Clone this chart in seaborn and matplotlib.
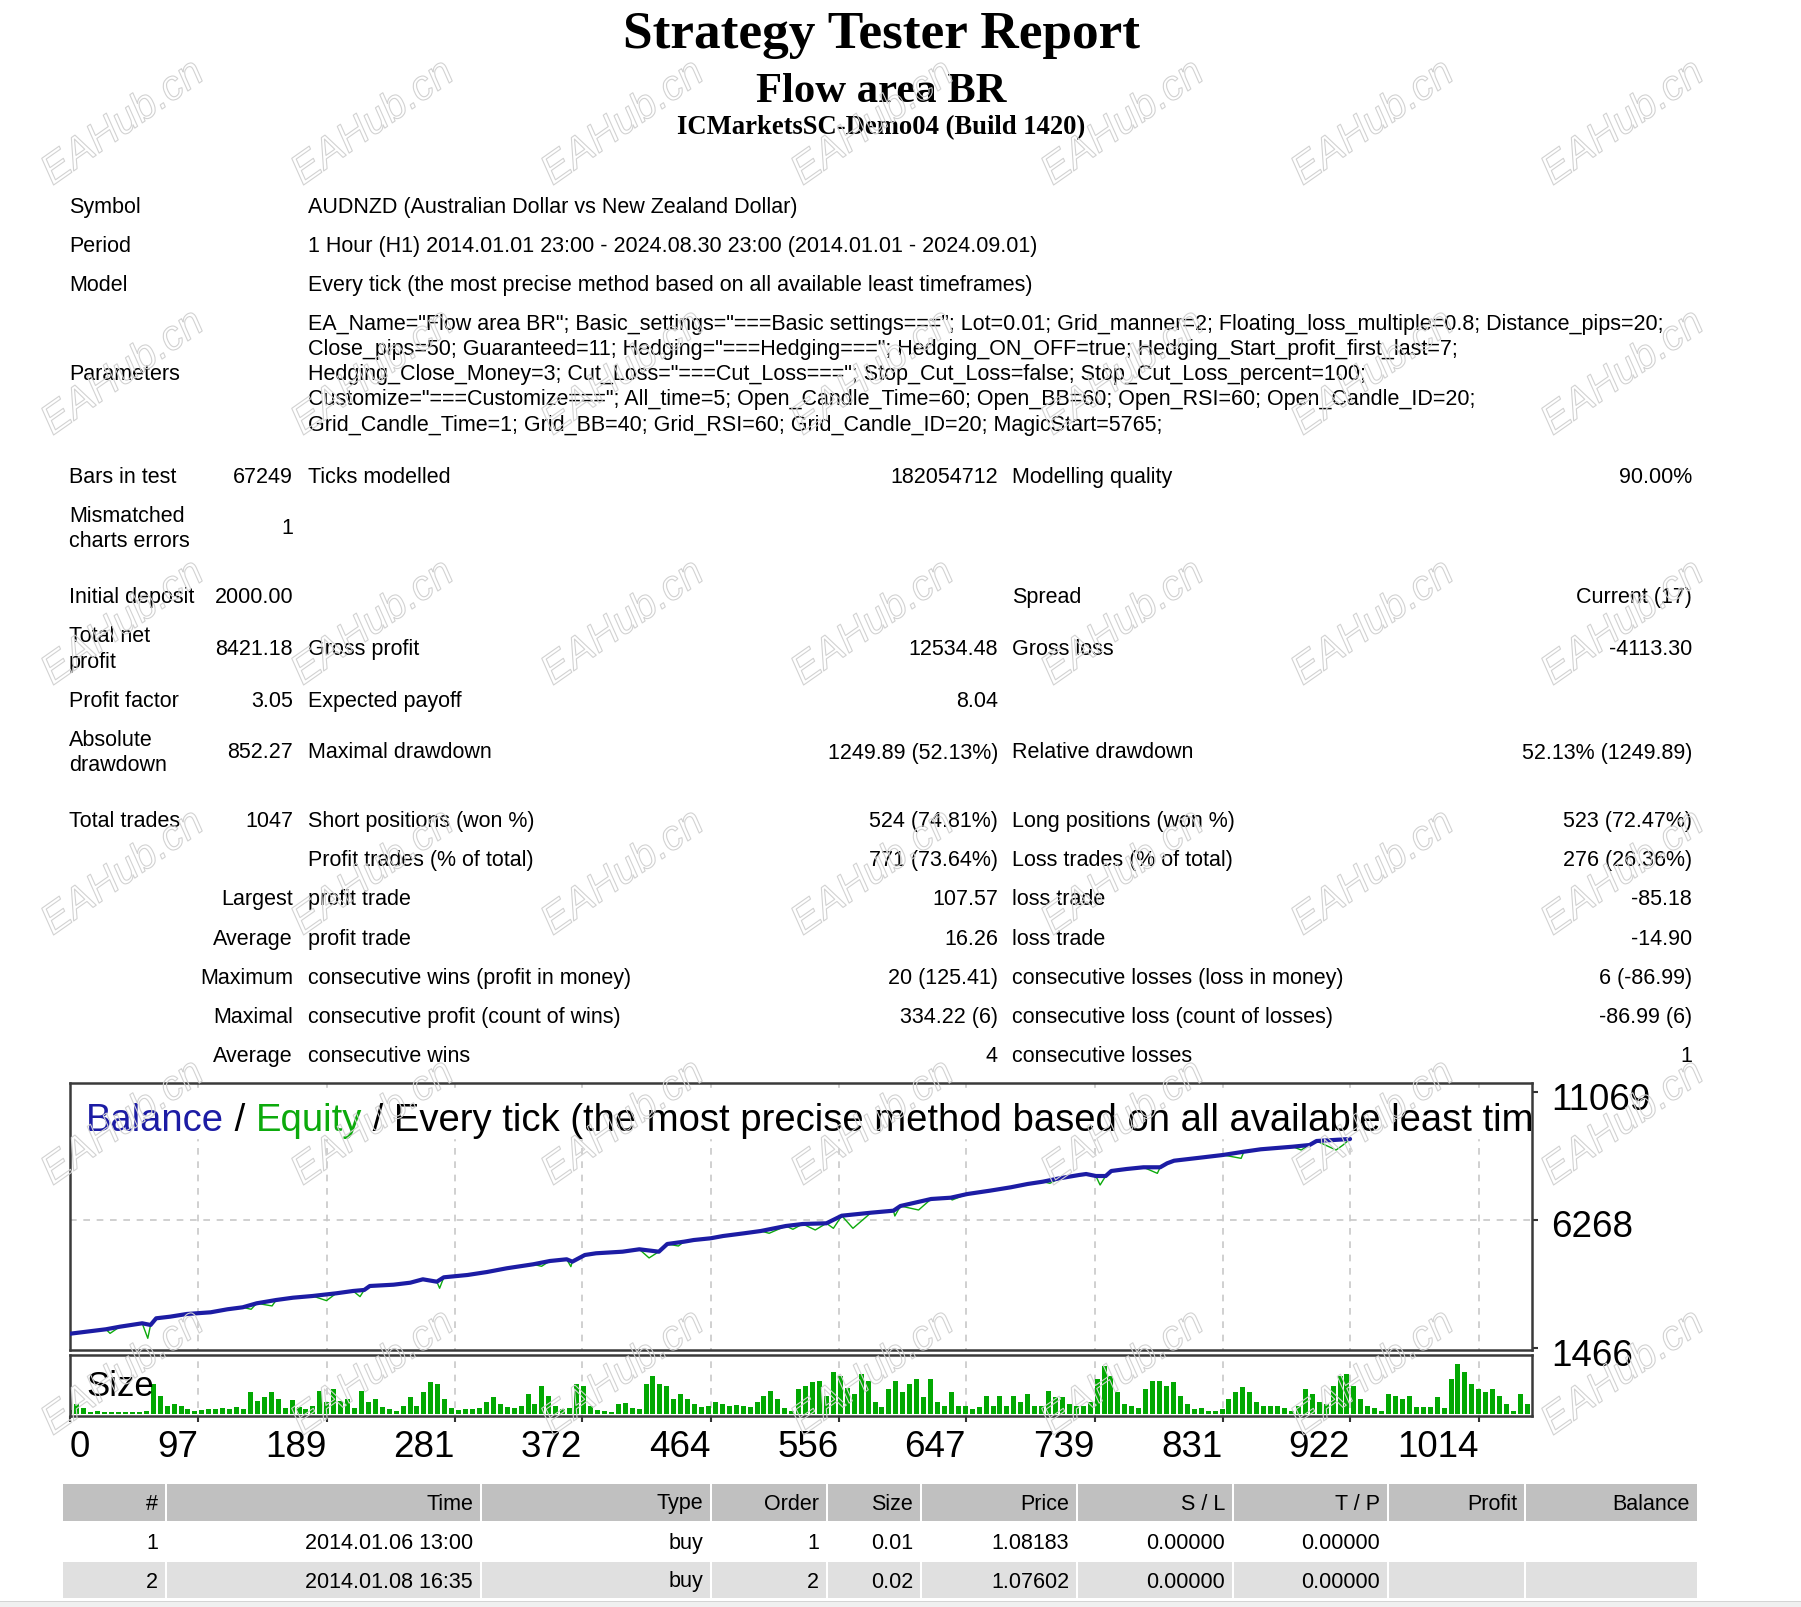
import matplotlib
matplotlib.use("Agg")
import matplotlib.pyplot as plt
import matplotlib.patheffects as pe
import matplotlib.transforms as mtransforms
from matplotlib.patches import Rectangle
import numpy as np
import pandas as pd
import seaborn as sns

W, H = 1801, 1607

# balance curve (trade number, balance)
balance_x = [5, 31, 41, 57, 63, 67, 77, 89, 106, 118, 129, 139, 153, 165, 179, 196, 208, 216, 220, 237,
             249, 258, 268, 273, 290, 304, 318, 337, 349, 361, 365, 374, 382, 401, 413, 427, 433, 445, 452, 464,
             473, 488, 500, 518, 530, 547, 558, 579, 595, 600, 622, 636, 648, 664, 679, 691, 702, 714, 728, 733,
             740, 747, 751, 762, 774, 786, 791, 796, 817, 831, 846, 858, 881, 893, 898, 922]
balance_y = [2000, 2168, 2265, 2393, 2330, 2580, 2641, 2742, 2805, 2918, 2993, 3143, 3267, 3353, 3417, 3518, 3605, 3643, 3792, 3841,
             3916, 4043, 3953, 4118, 4205, 4317, 4456, 4606, 4730, 4794, 4704, 4955, 5019, 5079, 5169, 5079, 5367, 5454, 5517, 5581,
             5667, 5769, 5855, 6043, 6118, 6144, 6429, 6542, 6617, 6793, 7056, 7104, 7243, 7367, 7494, 7618, 7705, 7832, 7956, 7993,
             7918, 7918, 8106, 8181, 8245, 8245, 8395, 8492, 8620, 8707, 8830, 8920, 9018, 9081, 9231, 9306]

# equity drawdown spikes below the balance line
dip_x = [34, 61, 135, 150, 189, 213, 270, 343, 364, 420, 441, 506, 523, 539, 552, 566, 596, 613, 637, 707, 743, 784, 844, 887, 912, 917]
dip_y = [2015, 1830, 2918, 3044, 3243, 3393, 3708, 4531, 4519, 4845, 5292, 5769, 5919, 5893, 5956, 5956, 6418, 6643, 7018, 7644,
         7580, 8018, 8581, 8893, 8893, 9081]

# lot size per trade, sampled about every 5 trades from the left edge
size_lots = [0.04, 0.10, 0.06, 0.02, 0.03, 0.02, 0.02, 0.02, 0.02, 0.02, 0.02, 0.03,
             0.30, 0.18, 0.08, 0.10, 0.08, 0.05, 0.03, 0.04, 0.05, 0.05, 0.06, 0.05, 0.07, 0.05,
             0.22, 0.13, 0.17, 0.22, 0.15, 0.06, 0.14, 0.07, 0.05, 0.08,
             0.23, 0.12, 0.25, 0.13, 0.15, 0.06, 0.23, 0.12, 0.15, 0.07, 0.05, 0.03, 0.08, 0.17, 0.08, 0.22, 0.32,
             0.30, 0.15, 0.06, 0.04, 0.05, 0.05, 0.06, 0.12, 0.17, 0.10,
             0.07, 0.06, 0.08, 0.20, 0.10, 0.28, 0.18, 0.08, 0.05, 0.06,
             0.30, 0.28, 0.08, 0.04, 0.03, 0.02, 0.10, 0.11, 0.06, 0.05,
             0.30, 0.38, 0.30, 0.28, 0.15, 0.20, 0.15, 0.10, 0.07, 0.08,
             0.12, 0.10, 0.08, 0.09, 0.08, 0.07, 0.12, 0.18, 0.23, 0.15,
             0.06, 0.03, 0.25,
             0.28, 0.32, 0.33, 0.18, 0.42, 0.38, 0.26, 0.20, 0.40, 0.33,
             0.12, 0.07, 0.25, 0.33, 0.22, 0.30, 0.35, 0.17, 0.35, 0.12,
             0.08, 0.22, 0.08, 0.08, 0.05, 0.07, 0.18, 0.08, 0.18, 0.08,
             0.18, 0.12, 0.20, 0.08, 0.08, 0.23, 0.17, 0.17, 0.10, 0.08,
             0.08, 0.12, 0.35, 0.48, 0.38, 0.22, 0.10, 0.08, 0.06, 0.25,
             0.33, 0.33, 0.28,
             0.32, 0.18, 0.10, 0.05, 0.06, 0.03, 0.03, 0.05, 0.15, 0.22,
             0.27, 0.22, 0.12, 0.08, 0.08, 0.08, 0.06, 0.03, 0.08, 0.25,
             0.20, 0.12, 0.10, 0.28, 0.38, 0.40, 0.28, 0.15, 0.08, 0.06,
             0.03, 0.20, 0.18, 0.15, 0.18, 0.07, 0.07, 0.07, 0.17, 0.06,
             0.35, 0.50, 0.42, 0.30, 0.25, 0.22, 0.25, 0.18, 0.10, 0.03,
             0.20, 0.10]

x_ticks = [0, 97, 189, 281, 372, 464, 556, 647, 739, 831, 922, 1014]
y_ticks = [1466, 6268, 11069]

info_labels = ["Symbol", "Period", "Model"]
info_values = ["AUDNZD (Australian Dollar vs New Zealand Dollar)",
               "1 Hour (H1) 2014.01.01 23:00 - 2024.08.30 23:00 (2014.01.01 - 2024.09.01)",
               "Every tick (the most precise method based on all available least timeframes)"]
param_lines = [
    'EA_Name="Flow area BR"; Basic_settings="===Basic settings==="; Lot=0.01; Grid_manner=2; Floating_loss_multiple=0.8; Distance_pips=20;',
    'Close_pips=50; Guaranteed=11; Hedging="===Hedging==="; Hedging_ON_OFF=true; Hedging_Start_profit_first_last=7;',
    'Hedging_Close_Money=3; Cut_Loss="===Cut_Loss==="; Stop_Cut_Loss=false; Stop_Cut_Loss_percent=100;',
    'Customize="===Customize==="; All_time=5; Open_Candle_Time=60; Open_BB=60; Open_RSI=60; Open_Candle_ID=20;',
    'Grid_Candle_Time=1; Grid_BB=40; Grid_RSI=60; Grid_Candle_ID=20; MagicStart=5765;',
]
stat_rows = [
    ("Bars in test", "67249", "Ticks modelled", "182054712", "Modelling quality", "90.00%"),
    ("Mismatched\ncharts errors", "1", "", "", "", ""),
    ("Initial deposit", "2000.00", "", "", "Spread", "Current (17)"),
    ("Total net\nprofit", "8421.18", "Gross profit", "12534.48", "Gross loss", "-4113.30"),
    ("Profit factor", "3.05", "Expected payoff", "8.04", "", ""),
    ("Absolute\ndrawdown", "852.27", "Maximal drawdown", "1249.89 (52.13%)", "Relative drawdown", "52.13% (1249.89)"),
    ("Total trades", "1047", "Short positions (won %)", "524 (74.81%)", "Long positions (won %)", "523 (72.47%)"),
    ("", "", "Profit trades (% of total)", "771 (73.64%)", "Loss trades (% of total)", "276 (26.36%)"),
    ("", "Largest", "profit trade", "107.57", "loss trade", "-85.18"),
    ("", "Average", "profit trade", "16.26", "loss trade", "-14.90"),
    ("", "Maximum", "consecutive wins (profit in money)", "20 (125.41)", "consecutive losses (loss in money)", "6 (-86.99)"),
    ("", "Maximal", "consecutive profit (count of wins)", "334.22 (6)", "consecutive loss (count of losses)", "-86.99 (6)"),
    ("", "Average", "consecutive wins", "4", "consecutive losses", "1"),
]
deal_header = ["#", "Time", "Type", "Order", "Size", "Price", "S / L", "T / P", "Profit", "Balance"]
deal_rows = [
    ["1", "2014.01.06 13:00", "buy", "1", "0.01", "1.08183", "0.00000", "0.00000", "", ""],
    ["2", "2014.01.08 16:35", "buy", "2", "0.02", "1.07602", "0.00000", "0.00000", "", ""],
]
caption_parts = ["Balance", " / ", "Equity", " / Every tick (the most precise method based on all available least time"]

# layout (pixels)
info_y = [205.6, 244.7, 283.7]
param_y0, line_gap = 322.8, 25.1
stat_y = [475.5, 527.2, 596.1, 647.8, 699.5, 751.2, 820.1, 859.2, 898.2, 937.3, 976.3, 1015.4, 1054.4]
stat_cols = [(69, "left"), (293, "right"), (308, "left"), (998, "right"), (1012, "left"), (1692, "right")]
cell_edges = [63, 166, 481, 711, 827, 921, 1077, 1233, 1388, 1525, 1698]

BLUE = "#1c1ca4"
GREEN = "#0caa0c"
SANS = "Liberation Sans"
TXT = 15.5
BIG = 26.5

sns.set_style("white")
plt.rcParams["font.family"] = [SANS, "DejaVu Sans"]

fig = plt.figure(figsize=(W / 100, H / 100), dpi=100)


def fx(px):
    return px / W


def fy(py):
    return 1 - py / H


def put(px, py, s, **kw):
    return fig.text(fx(px), fy(py), s, **kw)


def put_block(px, py_center, s, ha, size=TXT):
    lines = s.split("\n")
    n = len(lines)
    for k, line in enumerate(lines):
        yb = py_center + 7.3 + (k - (n - 1) / 2) * 25.3
        put(px, yb, line, ha=ha, va="baseline", size=size, color="#000000")


# titles
serif = dict(family="Liberation Serif", weight="bold", ha="center", va="baseline", color="#000000")
put(881, 48, "Strategy Tester Report", size=38.3, **serif)
put(881, 102, "Flow area BR", size=30.7, **serif)
put(881, 134, "ICMarketsSC-Demo04 (Build 1420)", size=19.2, **serif)

# info block
for lab, val, yc in zip(info_labels, info_values, info_y):
    put_block(69, yc, lab, "left")
    put_block(308, yc, val, "left")
for k, line in enumerate(param_lines):
    put_block(308, param_y0 + k * line_gap, line, "left")
put_block(69, param_y0 + 2 * line_gap, "Parameters", "left")

for row, yc in zip(stat_rows, stat_y):
    for (cx, ha), txt in zip(stat_cols, row):
        if txt:
            put_block(cx, yc, txt, ha)

# balance / equity chart
ax = fig.add_axes([fx(70), fy(1350), 1462 / W, 267 / H])
ax2 = fig.add_axes([fx(70), fy(1416), 1462 / W, 61 / H])

bal = pd.DataFrame({"trade": balance_x, "value": balance_y})
eq = pd.concat([bal, pd.DataFrame({"trade": dip_x, "value": dip_y})]).sort_values("trade")

x_lo, x_hi = 5.3, 1052.3
y_lo, y_hi = 1391, 11407

for a in (ax, ax2):
    a.vlines(x_ticks[1:], -1e6, 1e6, colors="#c8c8c8", linestyles=(0, (4, 4)), linewidth=1.2, zorder=1)
ax.axhline(6268, color="#c8c8c8", ls=(0, (4, 4)), lw=1.2, zorder=1)
# white band behind the chart caption
ax.axhspan(11069 - (1138 - 1092) * 37.51, 11069 - (1088 - 1092) * 37.51, color="white", zorder=1.5)

sns.lineplot(data=eq, x="trade", y="value", ax=ax, color=GREEN, linewidth=1.0,
             estimator=None, sort=False, zorder=3)
sns.lineplot(data=bal, x="trade", y="value", ax=ax, color=BLUE, linewidth=3.0,
             estimator=None, sort=False, zorder=4)

ax.set_xlim(x_lo, x_hi)
ax.set_ylim(y_lo, y_hi)
ax.set_xlabel("")
ax.set_ylabel("")
ax.set_xticks([])
ax.yaxis.tick_right()
ax.set_yticks(y_ticks)
ax.set_yticklabels([str(v) for v in y_ticks])
ax.tick_params(axis="y", right=True, left=False, direction="out", length=4, width=1.5,
               pad=10, labelsize=BIG, colors="#333333", labelcolor="#000000")
nudge = mtransforms.ScaledTranslation(0, -4 / 100, fig.dpi_scale_trans)
for lbl in ax.get_yticklabels():
    lbl.set_transform(lbl.get_transform() + nudge)

size_x = [round(x_lo + 4.97 * i, 2) for i in range(len(size_lots))]
sns.barplot(x=size_x, y=size_lots, native_scale=True, color="#02a802", saturation=1,
            width=0.72, errorbar=None, linewidth=0, ax=ax2, zorder=2)
ax2.set_xlim(x_lo, x_hi)
ax2.set_ylim(-0.023, 0.587)
ax2.set_xlabel("")
ax2.set_ylabel("")
ax2.set_yticks([])
ax2.set_xticks([x_lo] + x_ticks[1:])
ax2.set_xticklabels([str(v) for v in x_ticks])
ax2.tick_params(axis="x", bottom=True, direction="out", length=4, width=1.5, pad=6,
                labelsize=BIG, colors="#333333", labelcolor="#000000")
for i, lbl in enumerate(ax2.get_xticklabels()):
    lbl.set_horizontalalignment("left" if i == 0 else "right")

for a in (ax, ax2):
    for sp in a.spines.values():
        sp.set_color("#3a3a3a")
        sp.set_linewidth(1.8)
        sp.set_visible(True)

ax2.text(fx(86), fy(1387), "Size", transform=fig.transFigure, ha="left", va="center",
         size=25, color="#000000", zorder=6)

# chart caption, clipped at the right border
CAP = 27.5
cap_colors = [BLUE, "#000000", GREEN, "#000000"]
prev = ax.text(fx(86), fy(1139), caption_parts[0], transform=fig.transFigure, ha="left", va="bottom",
               size=CAP, color=cap_colors[0], clip_on=True, zorder=6)
for piece, col in zip(caption_parts[1:], cap_colors[1:]):
    prev = ax.annotate(piece, xy=(1, 0), xycoords=prev, ha="left", va="bottom",
                       size=CAP, color=col, clip_on=True, zorder=6)


# deals table
def cell_rect(x0, x1, y0, y1, color):
    fig.add_artist(Rectangle((fx(x0), fy(y1)), (x1 - x0) / W, (y1 - y0) / H,
                             transform=fig.transFigure, facecolor=color, edgecolor="none", zorder=1))


for c in range(len(deal_header)):
    x0 = cell_edges[c] + (1.3 if c else 0)
    x1 = cell_edges[c + 1] - 1.3
    cell_rect(x0, x1, 1484, 1520.7, "#c0c0c0")
    cell_rect(x0, x1, 1562, 1598, "#e0e0e0")
    put(cell_edges[c + 1] - 8, 1509.5, deal_header[c], ha="right", va="baseline", size=TXT, color="#000000")
    for r, yb in zip(deal_rows, (1549, 1587.5)):
        if r[c]:
            put(cell_edges[c + 1] - 8, yb, r[c], ha="right", va="baseline", size=TXT, color="#000000")

cell_rect(0, W, 1601, 1607, "#f0f0f0")
cell_rect(0, W, 1601, 1602.2, "#d4d4d4")

# watermark overlay
for i in range(7):
    for j in range(6):
        put(123 + 250 * i, 123 + 250 * j, "EAHub.cn", rotation=35, ha="center", va="center",
            size=30, family=SANS, style="italic", color=(1, 1, 1, 0), zorder=20,
            path_effects=[pe.Stroke(linewidth=0.8, foreground="#d2d2d2")])

fig.savefig("out.png", dpi=100, facecolor="white")
